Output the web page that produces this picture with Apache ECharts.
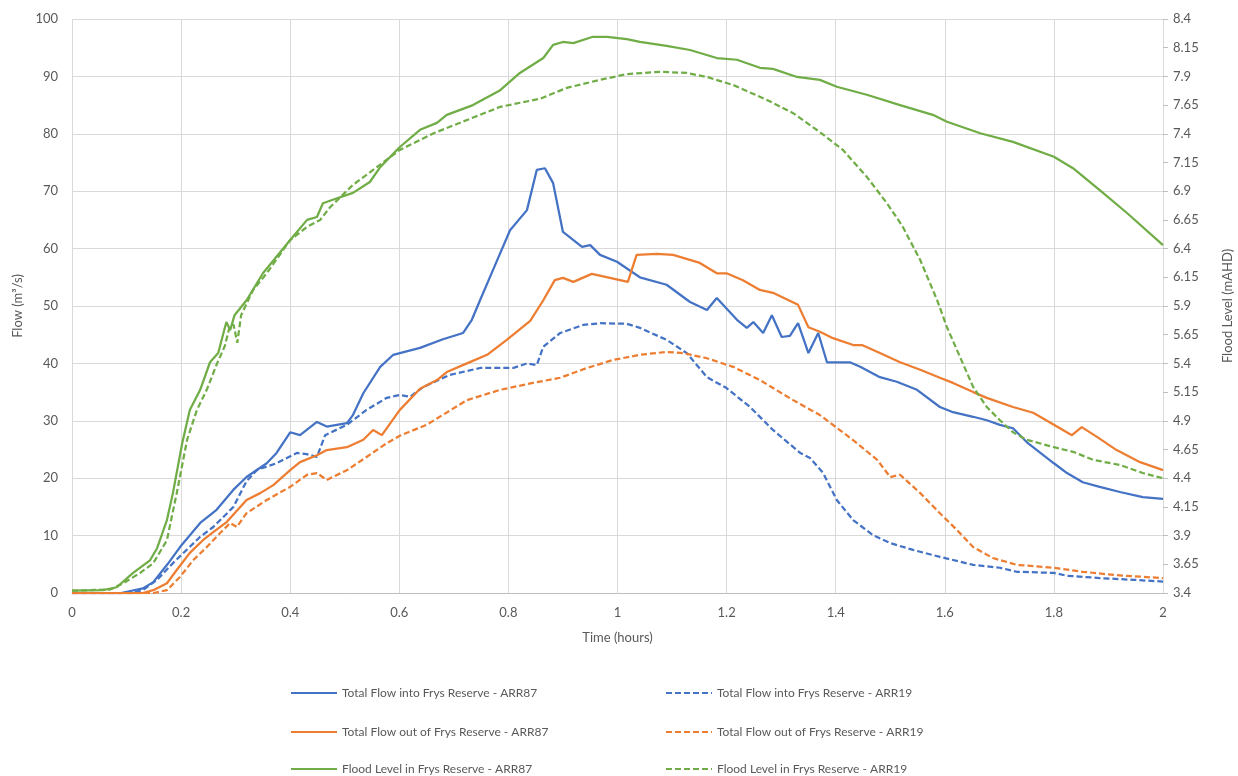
<!DOCTYPE html>
<html>
<head>
<meta charset="utf-8">
<title>Frys Reserve Flows and Flood Levels</title>
<script src="https://cdn.jsdelivr.net/npm/echarts@6/dist/echarts.min.js"></script>
<style>
  html, body { margin: 0; padding: 0; background: #ffffff; }
  #chart { width: 1238px; height: 776px; }
</style>
</head>
<body>
<div id="chart"></div>
<script>
// Series values as [time (hours), value] pairs.
// Flows are in m3/s (left axis); flood levels are in mAHD (right axis).
const inflowArr87 = [
  [0,0],[0.09,0],[0.13,0.8],[0.149,1.9],[0.175,5],[0.198,8],[0.235,12.2],[0.265,14.5],[0.296,18],[0.32,20.2],
  [0.357,22.6],[0.375,24.4],[0.4,28],[0.418,27.5],[0.449,29.8],[0.467,29],[0.504,29.6],[0.515,31],[0.534,34.8],
  [0.565,39.4],[0.589,41.5],[0.601,41.8],[0.638,42.7],[0.68,44.2],[0.717,45.3],[0.733,47.6],[0.748,51],[0.775,57],
  [0.803,63.2],[0.834,66.7],[0.852,73.7],[0.867,74],[0.882,71.4],[0.9,62.9],[0.935,60.3],[0.95,60.6],[0.968,58.9],
  [0.999,57.7],[1.041,55],[1.09,53.7],[1.133,50.7],[1.164,49.3],[1.182,51.4],[1.219,47.6],[1.237,46.2],[1.249,47.2],
  [1.267,45.3],[1.283,48.4],[1.301,44.6],[1.316,44.8],[1.331,47],[1.35,41.8],[1.368,45.3],[1.384,40.2],[1.426,40.2],
  [1.445,39.4],[1.481,37.6],[1.512,36.8],[1.549,35.4],[1.591,32.4],[1.615,31.5],[1.652,30.7],[1.677,30.1],[1.701,29.3],
  [1.725,28.7],[1.75,26.3],[1.8,22.6],[1.824,20.9],[1.853,19.3],[1.884,18.5],[1.921,17.6],[1.963,16.7],[2,16.4]
];
const inflowArr19 = [
  [0,0],[0.11,0],[0.13,0.5],[0.156,2.3],[0.185,5.2],[0.21,7.5],[0.235,9.8],[0.259,11.5],[0.296,15],[0.32,19.5],
  [0.34,21.5],[0.375,22.6],[0.412,24.4],[0.43,24.2],[0.449,23.7],[0.464,27.5],[0.504,29.3],[0.54,31.9],[0.577,34],
  [0.601,34.5],[0.62,34.2],[0.644,35.9],[0.693,38],[0.748,39.2],[0.809,39.2],[0.834,40],[0.852,39.7],[0.864,42.9],
  [0.895,45.3],[0.937,46.7],[0.968,47],[1.017,46.9],[1.041,46.2],[1.09,44.1],[1.127,41.8],[1.164,37.6],[1.2,35.7],
  [1.243,32.4],[1.285,28.4],[1.335,24.4],[1.353,23.5],[1.377,20.9],[1.402,16.2],[1.432,12.7],[1.468,10.1],[1.5,8.7],
  [1.542,7.5],[1.591,6.3],[1.652,4.9],[1.701,4.4],[1.732,3.7],[1.8,3.5],[1.824,3],[1.884,2.6],[1.945,2.3],[2,2]
];
const outflowArr87 = [
  [0,0],[0.13,0],[0.149,0.5],[0.174,1.7],[0.192,4],[0.216,7],[0.24,9.2],[0.259,10.6],[0.284,12.4],[0.32,16.2],
  [0.345,17.4],[0.369,18.8],[0.4,21.4],[0.418,22.8],[0.449,24],[0.467,24.9],[0.504,25.4],[0.534,26.7],[0.552,28.4],
  [0.568,27.5],[0.601,31.9],[0.638,35.6],[0.669,37.1],[0.687,38.5],[0.724,40],[0.761,41.5],[0.797,44.1],[0.84,47.4],
  [0.864,51],[0.885,54.5],[0.9,54.9],[0.919,54.2],[0.953,55.6],[0.986,54.9],[1.019,54.2],[1.035,58.9],[1.072,59.1],
  [1.102,58.9],[1.151,57.5],[1.182,55.7],[1.2,55.7],[1.23,54.5],[1.261,52.8],[1.285,52.3],[1.331,50.2],[1.35,46.3],
  [1.371,45.5],[1.395,44.4],[1.432,43.2],[1.448,43.2],[1.481,41.8],[1.518,40.2],[1.555,38.9],[1.591,37.5],[1.615,36.6],
  [1.652,35],[1.677,34],[1.725,32.4],[1.762,31.4],[1.8,29.3],[1.833,27.5],[1.851,28.9],[1.879,27.2],[1.915,24.9],
  [1.958,22.8],[2,21.4]
];
const outflowArr19 = [
  [0,0],[0.15,0],[0.174,0.5],[0.198,2.8],[0.222,5.7],[0.247,8],[0.271,10.4],[0.29,12.2],[0.302,11.5],[0.32,13.9],
  [0.357,16.2],[0.4,18.5],[0.431,20.6],[0.449,20.9],[0.467,19.7],[0.504,21.4],[0.54,23.7],[0.577,26.1],[0.601,27.4],
  [0.65,29.3],[0.724,33.6],[0.785,35.4],[0.845,36.6],[0.895,37.5],[0.944,39.2],[0.992,40.6],[1.041,41.5],[1.09,42],
  [1.12,41.8],[1.164,40.9],[1.212,39.4],[1.261,37.1],[1.322,33.6],[1.371,31],[1.413,28],[1.439,26.1],[1.476,23.2],
  [1.5,20.2],[1.518,20.6],[1.555,17.4],[1.591,13.9],[1.622,11],[1.652,8],[1.688,6.1],[1.732,4.9],[1.8,4.4],
  [1.853,3.7],[1.915,3.1],[2,2.6]
];
const levelArr87 = [
  [0,3.42],[0.057,3.425],[0.082,3.45],[0.112,3.575],[0.143,3.685],[0.156,3.79],[0.174,4.035],[0.185,4.27],[0.202,4.705],
  [0.216,4.995],[0.235,5.17],[0.253,5.41],[0.268,5.49],[0.283,5.76],[0.29,5.69],[0.298,5.82],[0.32,5.95],[0.35,6.185],
  [0.4,6.475],[0.431,6.65],[0.449,6.675],[0.46,6.795],[0.478,6.825],[0.515,6.885],[0.546,6.98],[0.565,7.11],
  [0.601,7.285],[0.638,7.435],[0.669,7.495],[0.687,7.565],[0.735,7.65],[0.785,7.78],[0.821,7.93],[0.864,8.06],
  [0.882,8.175],[0.9,8.2],[0.919,8.19],[0.955,8.245],[0.981,8.245],[1.017,8.225],[1.041,8.2],[1.09,8.165],[1.133,8.13],
  [1.182,8.06],[1.219,8.045],[1.261,7.975],[1.285,7.965],[1.329,7.895],[1.371,7.87],[1.402,7.81],[1.457,7.74],
  [1.518,7.65],[1.578,7.565],[1.604,7.505],[1.665,7.405],[1.725,7.33],[1.8,7.2],[1.835,7.1],[1.884,6.91],[1.934,6.71],
  [2,6.43]
];
const levelArr19 = [
  [0,3.42],[0.07,3.43],[0.094,3.485],[0.125,3.575],[0.149,3.66],[0.174,3.86],[0.192,4.27],[0.211,4.735],[0.229,4.995],
  [0.247,5.17],[0.266,5.4],[0.28,5.55],[0.289,5.72],[0.296,5.74],[0.303,5.58],[0.31,5.82],[0.332,6.04],[0.357,6.185],
  [0.4,6.475],[0.431,6.59],[0.455,6.65],[0.473,6.76],[0.515,6.955],[0.552,7.085],[0.601,7.26],[0.663,7.405],
  [0.724,7.52],[0.785,7.635],[0.858,7.705],[0.907,7.8],[0.968,7.87],[1.017,7.92],[1.078,7.94],[1.127,7.93],
  [1.164,7.895],[1.212,7.825],[1.274,7.695],[1.322,7.58],[1.371,7.415],[1.413,7.26],[1.457,7.025],[1.494,6.795],
  [1.523,6.59],[1.555,6.3],[1.586,5.95],[1.604,5.715],[1.628,5.455],[1.652,5.195],[1.677,5.02],[1.701,4.905],
  [1.725,4.8],[1.75,4.735],[1.8,4.67],[1.835,4.63],[1.872,4.56],[1.921,4.515],[1.963,4.445],[2,4.4]
];

const seriesNames = [
  'Total Flow into Frys Reserve - ARR87',
  'Total Flow into Frys Reserve - ARR19',
  'Total Flow out of Frys Reserve - ARR87',
  'Total Flow out of Frys Reserve - ARR19',
  'Flood Level in Frys Reserve - ARR87',
  'Flood Level in Frys Reserve - ARR19'
];

const BLUE = '#4472c4', ORANGE = '#ed7d31', GREEN = '#70ad47';
const TEXT = '#595959';
const FONT = 'Lato, "Liberation Sans", sans-serif';
const DASH = [6, 3];

function lineSeries(name, data, color, dashed, axisIndex) {
  return {
    name: name,
    type: 'line',
    yAxisIndex: axisIndex,
    data: data,
    symbol: 'none',
    smooth: false,
    animation: false,
    lineStyle: { color: color, width: 2.25, type: dashed ? DASH : 'solid' },
    itemStyle: { color: color }
  };
}

// One legend entry per slot: two columns, three rows under the plot.
function legendEntry(name, left, top) {
  return {
    orient: 'horizontal',
    left: left, top: top,
    padding: 0,
    itemWidth: 46, itemHeight: 14,
    itemStyle: { opacity: 0, borderWidth: 0 },
    textStyle: { fontFamily: FONT, fontSize: 12, color: TEXT },
    data: [name],
    selectedMode: false
  };
}

const chart = echarts.init(document.getElementById('chart'), null, { renderer: 'canvas' });

chart.setOption({
  backgroundColor: '#ffffff',
  animation: false,
  textStyle: { fontFamily: FONT, color: TEXT },
  grid: { left: 72, right: 75, top: 19, bottom: 183, containLabel: false, outerBoundsMode: 'none' },
  xAxis: {
    type: 'value',
    min: 0, max: 2, interval: 0.2,
    name: 'Time (hours)',
    nameLocation: 'middle',
    nameGap: 38,
    nameTextStyle: { fontFamily: FONT, fontSize: 13, color: TEXT },
    axisLine: { show: true, lineStyle: { color: '#bfbfbf', width: 1 } },
    axisTick: { show: false },
    axisLabel: { fontFamily: FONT, fontSize: 13, color: TEXT, margin: 13 },
    splitLine: { show: true, lineStyle: { color: '#d9d9d9', width: 1 } }
  },
  yAxis: [
    {
      type: 'value',
      min: 0, max: 100, interval: 10,
      name: 'Flow (m³/s)',
      nameLocation: 'middle',
      nameRotate: 90,
      nameGap: 48,
      nameTextStyle: { fontFamily: FONT, fontSize: 13, color: TEXT },
      axisLine: { show: false },
      axisTick: { show: false },
      axisLabel: { fontFamily: FONT, fontSize: 13, color: TEXT, margin: 14 },
      splitLine: { show: true, lineStyle: { color: '#d9d9d9', width: 1 } }
    },
    {
      type: 'value',
      position: 'right',
      min: 3.4, max: 8.4, interval: 0.25,
      name: 'Flood Level (mAHD)',
      nameLocation: 'middle',
      nameRotate: 90,
      nameGap: 58,
      nameTextStyle: { fontFamily: FONT, fontSize: 13, color: TEXT },
      axisLine: { show: false },
      axisTick: { show: true, length: 5, inside: false, lineStyle: { color: '#bfbfbf' } },
      axisLabel: {
        fontFamily: FONT, fontSize: 13, color: TEXT, margin: 10,
        formatter: function (v) { return String(Math.round(v * 100) / 100); }
      },
      splitLine: { show: false }
    }
  ],
  legend: [
    legendEntry(seriesNames[0], 290, 687),
    legendEntry(seriesNames[2], 290, 726),
    legendEntry(seriesNames[4], 290, 763),
    legendEntry(seriesNames[1], 665, 687),
    legendEntry(seriesNames[3], 665, 726),
    legendEntry(seriesNames[5], 665, 763)
  ],
  series: [
    lineSeries(seriesNames[0], inflowArr87, BLUE, false, 0),
    lineSeries(seriesNames[1], inflowArr19, BLUE, true, 0),
    lineSeries(seriesNames[2], outflowArr87, ORANGE, false, 0),
    lineSeries(seriesNames[3], outflowArr19, ORANGE, true, 0),
    lineSeries(seriesNames[4], levelArr87, GREEN, false, 1),
    lineSeries(seriesNames[5], levelArr19, GREEN, true, 1)
  ]
});
</script>
</body>
</html>
